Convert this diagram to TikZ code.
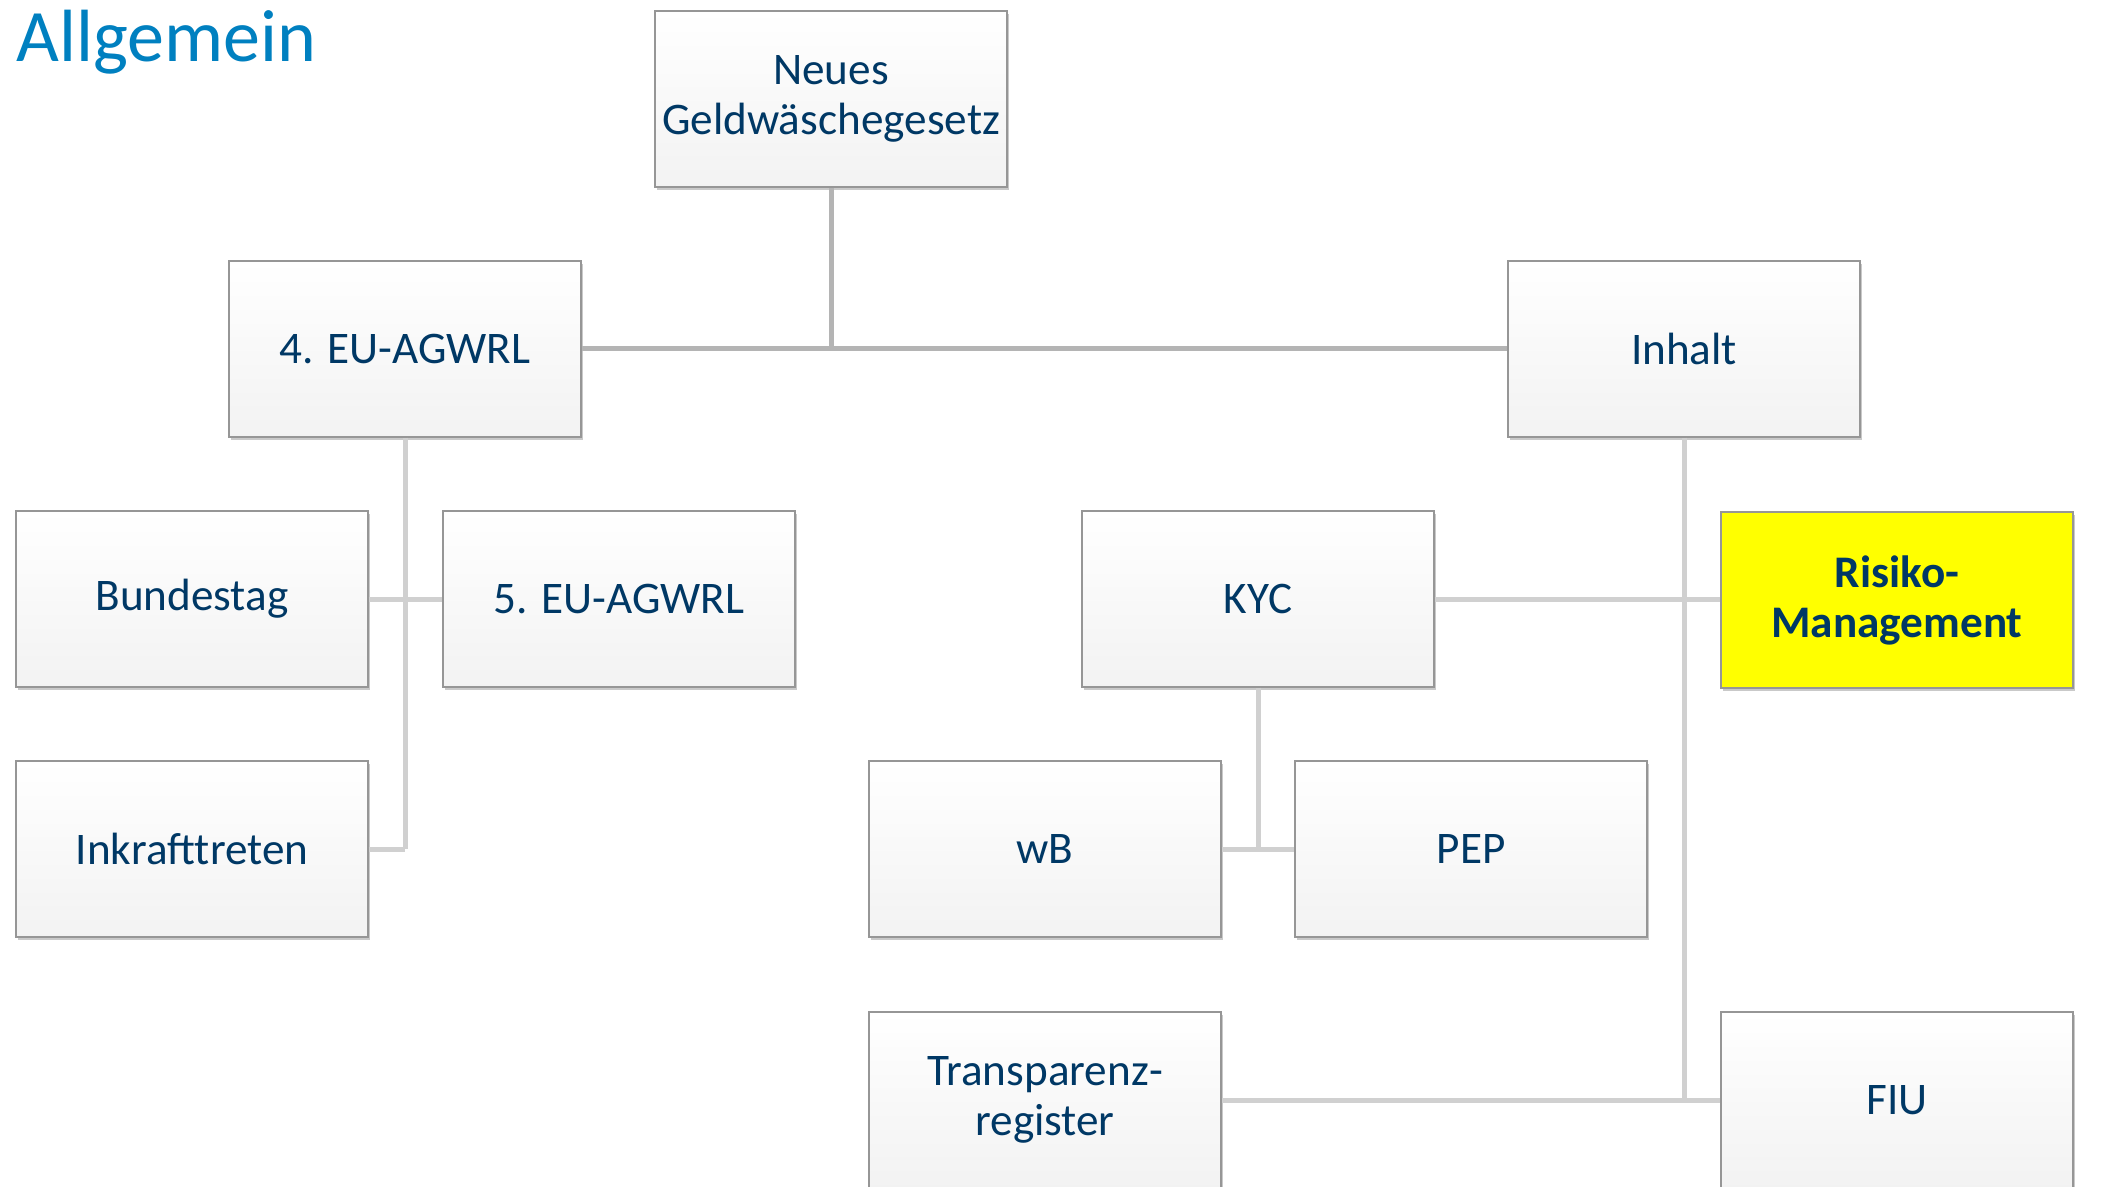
\documentclass[tikz,border=0pt]{standalone}
\usepackage{fontspec}
\setmainfont{Carlito}
\usepackage{xcolor}
\usetikzlibrary{positioning,shadows}

\definecolor{navy}{RGB}{0,56,101}
\definecolor{titleblue}{RGB}{0,128,192}
\definecolor{trunkgray}{RGB}{180,180,180}
\definecolor{branchgray}{RGB}{208,208,208}
\definecolor{framegray}{RGB}{150,150,150}

\tikzset{
    box/.style={rectangle, draw=framegray, line width=0.7pt,
        top color=white, bottom color=black!5,
        minimum width=176pt, minimum height=88pt, inner sep=2pt,
        align=center, text=navy, font=\fontsize{22.6}{25}\selectfont,
        drop shadow={shadow xshift=1.2pt, shadow yshift=-1.5pt, opacity=0.35, fill=black!60}},
    hot/.style={box, top color=yellow, bottom color=yellow, font=\fontsize{22.6}{25}\selectfont\bfseries},
    trunk/.style={draw=trunkgray, line width=2.5pt},
    branch/.style={draw=branchgray, line width=2.5pt}
}

\begin{document}
\begin{tikzpicture}[x=0.5pt,y=-0.5pt]
    \fill[white] (0,0) rectangle (2123,1187);
    \useasboundingbox (0,0) rectangle (2123,1187);

    % Title
    \node[anchor=base west, inner sep=0pt, text=titleblue, font=\fontsize{37}{40}\selectfont] (title) at (16,62) {Allgemein};

    % Boxes
    \foreach \name/\x/\y/\txt in {neu/831/99/{Neues\\Geldwäschegesetz}, eu4/405/349/{4. EU-AGWRL}, inhalt/1684/349/Inhalt,
        bundestag/192/599/Bundestag, eufive/619/599/{5. EU-AGWRL}, kyc/1258/599/KYC,
        inkraft/192/849/Inkrafttreten, wb/1045/849/wB, pep/1471/849/PEP,
        transp/1045/1100/{Transparenz-\\register}, fiu/1897/1100/FIU}
        \node[box] (\name) at (\x,\y) {\txt};
    \node[hot] (risiko) at (1897,600) {Risiko-\\Management};

    % Top level
    \draw[trunk] (eu4) -- (inhalt);
    \draw[trunk] (neu) -- (neu |- eu4);

    % Left branch
    \draw[branch] (eu4) -- (eu4 |- inkraft);
    \draw[branch] (bundestag) -- (eufive);
    \draw[branch] (inkraft) -- (inkraft -| eu4);

    % Right branch
    \draw[branch] (inhalt) -- (inhalt |- fiu);
    \draw[branch] (kyc) -- (kyc -| risiko.west);
    \draw[branch] (transp) -- (fiu);
    \draw[branch] (kyc) -- (kyc |- wb);
    \draw[branch] (wb) -- (pep);
\end{tikzpicture}
\end{document}
